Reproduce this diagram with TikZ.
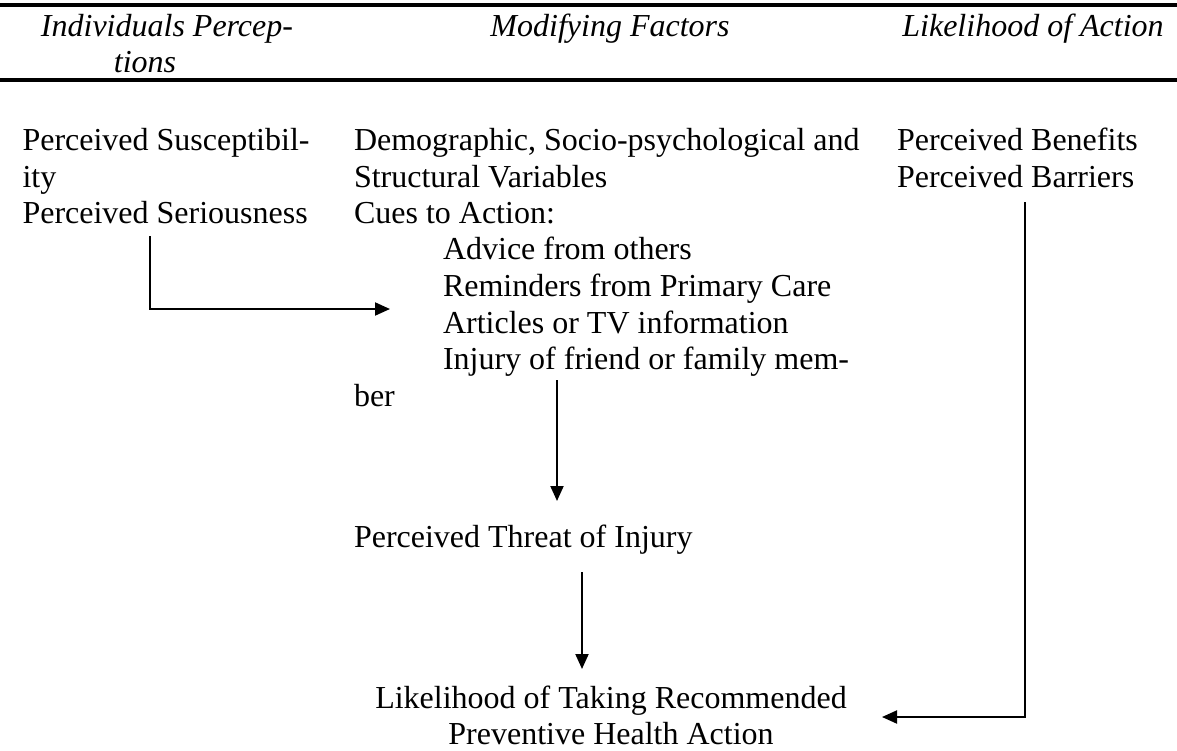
\documentclass[tikz,border=0pt]{standalone}
\usepackage{fontspec}
\setmainfont{Liberation Serif}
\usetikzlibrary{arrows.meta}
\begin{document}
\begin{tikzpicture}[x=0.5pt,y=-0.5pt,
  txt/.style={inner sep=0pt, outer sep=0pt, text height=11pt, text depth=3.5pt,
    font=\fontsize{16}{18.4}\selectfont, anchor=base west},
  hd/.style={inner sep=0pt, outer sep=0pt, font=\fontsize{16}{18.4}\selectfont\itshape, anchor=base},
  conn/.style={line width=1pt, -{Triangle[length=7.5pt,width=6.5pt]}},
  hrule/.style={line width=1.7pt}]
\useasboundingbox (0,0) rectangle (1177,750);
% header rules
\draw[hrule] (0,5) -- (1177,5);
\draw[hrule] (0,80) -- (1177,80);
% headers
\node[hd] (h1a) at (167,36) {Individuals Percep-};
\node[hd] (h1b) at (145,72) {tions};
\node[hd] (h2) at (610,36) {Modifying Factors};
\node[hd] (h3) at (1033,36) {Likelihood of Action};
% left column
\node[txt] (sus1) at (22.5,150) {Perceived Susceptibil-};
\node[txt] (sus2) at (22.5,187) {ity};
\node[txt] (ser) at (22.5,223) {Perceived Seriousness};
% middle column
\node[txt] (dem1) at (354,150) {Demographic, Socio-psychological and};
\node[txt] (dem2) at (354,187) {Structural Variables};
\node[txt] (cues) at (354,223) {Cues to Action:};
\node[txt] (adv) at (443,259) {Advice from others};
\node[txt] (rem) at (443,296) {Reminders from Primary Care};
\node[txt] (art) at (443,333) {Articles or TV information};
\node[txt] (inj) at (443,369) {Injury of friend or family mem-};
\node[txt] (ber) at (354,406) {ber};
\node[txt] (thr) at (354,547) {Perceived Threat of Injury};
% right column
\node[txt] (ben) at (897,150) {Perceived Benefits};
\node[txt] (bar) at (897,187) {Perceived Barriers};
% outcome
\node[txt, anchor=base] (lik1) at (611,708) {Likelihood of Taking Recommended};
\node[txt, anchor=base] (lik2) at (611,744) {Preventive Health Action};
% connector geometry
\coordinate (c1s) at (150,236);
\coordinate (c1e) at (390,309);
\coordinate (c2x) at (557,0);
\coordinate (c3x) at (582,0);
\coordinate (c4x) at (1025,0);
\coordinate (c4e) at (882,717);
% connectors
\draw[conn] (c1s) |- (c1e);
\draw[conn] ([yshift=-2pt]inj.south -| c2x) -- ([yshift=12pt]thr.north -| c2x);
\draw[conn] ([yshift=-9pt]thr.south -| c3x) -- ([yshift=8.5pt]lik1.north -| c3x);
\draw[conn] ([yshift=-4pt]bar.south -| c4x) |- (c4e);
\end{tikzpicture}
\end{document}
